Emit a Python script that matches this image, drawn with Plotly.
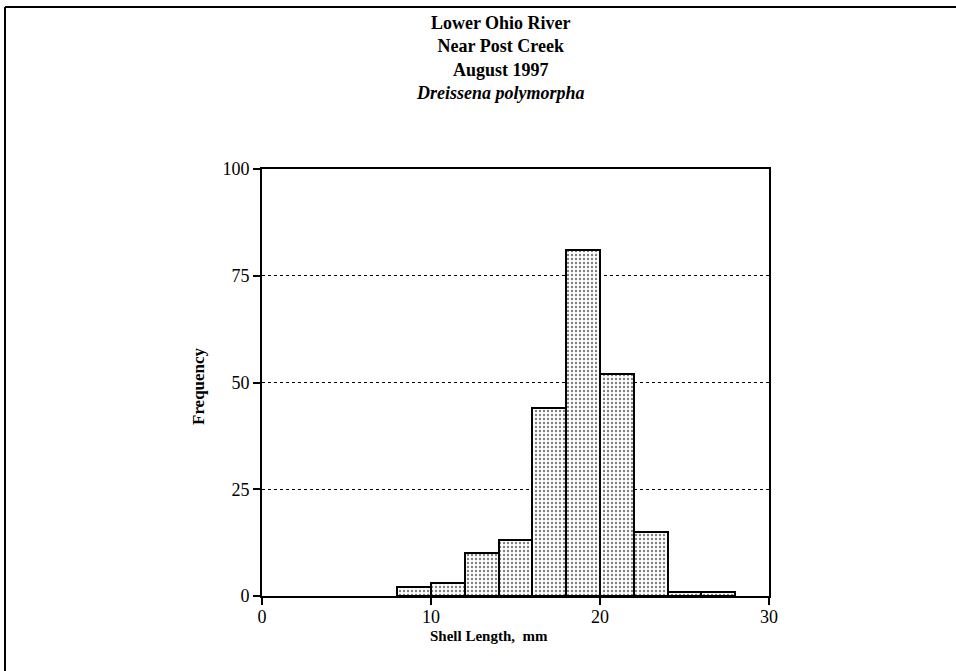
import plotly.graph_objects as go

bin_starts = [8, 10, 12, 14, 16, 18, 20, 22, 24, 26]
bin_width = 2
frequency = [2, 3, 10, 13, 44, 81, 52, 15, 1, 1]
title_lines = ["<b>Lower Ohio River</b>", "<b>Near Post Creek</b>", "<b>August 1997</b>",
               "<b><i>Dreissena polymorpha</i></b>"]
x_ticks = [0, 10, 20, 30]
y_ticks = [0, 25, 50, 75, 100]

W, H = 956, 671
L, R, T, B = 262, 769, 169, 596

centers = [s + bin_width / 2 for s in bin_starts]

fig = go.Figure(go.Bar(
    x=centers, y=frequency, width=[bin_width] * len(centers),
    marker=dict(color="white", line=dict(color="black", width=2),
                pattern=dict(shape=".", fgcolor="black", bgcolor="white", size=4, solidity=0.28)),
))

def px2paper_x(px):
    return (px - L) / (R - L)

def px2paper_y(py):
    return (B - py) / (B - T)

font = "Liberation Serif, Times New Roman, serif"
ann = [dict(text="<br>".join(title_lines), x=px2paper_x(500), y=px2paper_y(11), xref="paper", yref="paper",
            xanchor="center", yanchor="top", showarrow=False, align="center",
            font=dict(family=font, size=18, color="black"))]
ann.append(dict(text="<b>Shell Length,  mm</b>", x=px2paper_x(489), y=px2paper_y(636),
                xref="paper", yref="paper", xanchor="center", yanchor="middle", showarrow=False,
                font=dict(family=font, size=15, color="black")))
ann.append(dict(text="<b>Frequency</b>", x=px2paper_x(198), y=px2paper_y(386),
                xref="paper", yref="paper", xanchor="center", yanchor="middle", showarrow=False,
                textangle=-90, font=dict(family=font, size=17, color="black")))

shapes = [
    dict(type="line", xref="paper", yref="paper", x0=px2paper_x(5), x1=px2paper_x(956),
         y0=px2paper_y(7), y1=px2paper_y(7), line=dict(color="black", width=2)),
    dict(type="line", xref="paper", yref="paper", x0=px2paper_x(5), x1=px2paper_x(5),
         y0=px2paper_y(7), y1=px2paper_y(671), line=dict(color="black", width=2)),
]

fig.update_layout(
    width=W, height=H, autosize=False,
    margin=dict(l=L, r=W - R, t=T, b=H - B, pad=0),
    paper_bgcolor="white", plot_bgcolor="white",
    showlegend=False, bargap=0,
    annotations=ann, shapes=shapes,
    font=dict(family=font, color="black"),
)
fig.update_xaxes(range=[0, 30], tickvals=x_ticks, ticks="outside", ticklen=7, tickwidth=2,
                 tickcolor="black", showline=True, linecolor="black", linewidth=2, mirror=True,
                 showgrid=False, zeroline=False, ticklabelstandoff=-4,
                 tickfont=dict(family=font, size=18, color="black"))
fig.update_yaxes(range=[0, 100], tickvals=y_ticks, ticks="outside", ticklen=7, tickwidth=2,
                 tickcolor="black", showline=True, linecolor="black", linewidth=2, mirror=True,
                 showgrid=True, gridcolor="black", griddash="dot", gridwidth=1, zeroline=False,
                 tickfont=dict(family=font, size=18, color="black"))

fig.write_html("out.html", config={"displayModeBar": False},
               post_script="document.body.style.margin='0';document.body.style.overflow='hidden';")
